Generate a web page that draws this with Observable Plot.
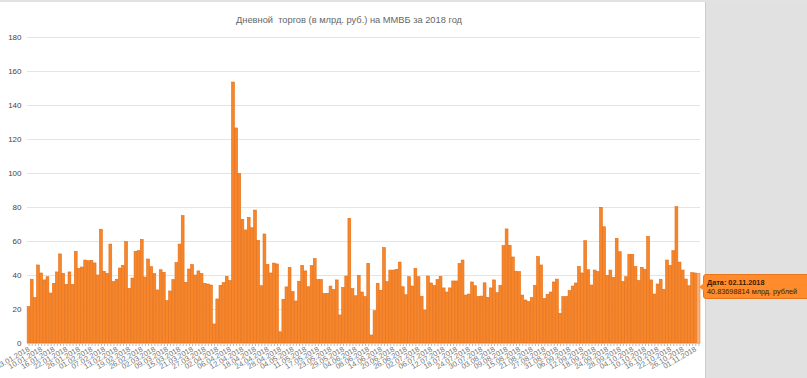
<!DOCTYPE html>
<html><head><meta charset="utf-8">
<script src="https://cdn.jsdelivr.net/npm/d3@7"></script>
<script src="https://cdn.jsdelivr.net/npm/@observablehq/plot@0.6"></script>
<style>
html,body{margin:0;padding:0;background:#fff;}
#wrap{position:relative;width:807px;height:378px;overflow:hidden;font-family:"Liberation Sans",Arial,sans-serif;}
#title{position:absolute;top:15px;left:0;width:698px;text-align:center;font-size:9.3px;color:#666;white-space:pre;}
#panel{position:absolute;left:705px;top:0;width:102px;height:378px;background:#e1e1e1;border-left:1px solid #cdcdcd;}
#topline{position:absolute;left:0;top:0;width:807px;height:2px;background:#e2e2e2;}
#tip{position:absolute;left:703px;top:274px;width:108px;height:25px;background:#ff8b2c;border:1px solid #e8761c;border-radius:3px;font-size:7.3px;color:#3a1d05;line-height:9px;padding:3px 0 0 3px;box-sizing:border-box;white-space:nowrap;}
#tip b{display:block;}
#tip:before{content:"";position:absolute;left:-5px;top:8px;border-top:4px solid transparent;border-bottom:4px solid transparent;border-right:5px solid #ff8b2c;}
svg{position:absolute;left:0;top:0;}
</style></head>
<body><div id="wrap"><div id="panel"></div><div id="topline"></div><div id="title"></div><div id="chart"></div><div id="tip"></div></div>
<script>
const titleText = "Дневной  торгов (в млрд. руб.) на ММВБ за 2018 год";
const tipDate = "02.11.2018";
const tipValue = "40.83698814 млрд. рублей";
const yTicks = [0,20,40,60,80,100,120,140,160,180];
const dateLabels = ["03.01.2018","10.01.2018","16.01.2018","22.01.2018","26.01.2018","01.02.2018","07.02.2018","13.02.2018","19.02.2018","26.02.2018","02.03.2018","09.03.2018","15.03.2018","21.03.2018","27.03.2018","02.04.2018","06.04.2018","12.04.2018","18.04.2018","24.04.2018","28.04.2018","04.05.2018","11.05.2018","17.05.2018","23.05.2018","29.05.2018","04.06.2018","08.06.2018","14.06.2018","20.06.2018","26.06.2018","02.07.2018","06.07.2018","12.07.2018","18.07.2018","24.07.2018","30.07.2018","03.08.2018","09.08.2018","15.08.2018","21.08.2018","27.08.2018","31.08.2018","06.09.2018","12.09.2018","18.09.2018","24.09.2018","28.09.2018","04.10.2018","10.10.2018","16.10.2018","22.10.2018","26.10.2018","01.11.2018"];
const labelStep = 4;
const values = [
21.4,37.5,26.7,45.9,41.2,37.1,39,29.4,35.1,41.8,
52.4,41,34.5,41.8,34.5,53.9,43.9,44.7,48.8,48.4,
48.6,47.1,40,66.9,42.2,41,58.2,36.1,37.5,44.1,
45.7,59.6,32.2,38.2,53.9,54.3,61,38.8,49.4,44.9,
40.8,31.2,43.1,41.6,24.9,30.6,37.3,47.3,58.2,74.9,
35.7,43.5,46.1,40,42.4,40.8,35.1,34.7,34.1,11.2,
25.9,33.9,35.5,39.2,36.7,153.5,126.5,99.8,72.7,66.5,
73.9,67.8,78.2,60.4,33.7,64.1,46.3,41.2,47,46.5,
6.6,25.7,33,44.5,30.2,24.7,36.3,45.7,42.4,33.1,
45.5,49.6,37.3,37.3,29.2,29.2,33.5,31.4,37.1,16.5,
32.7,39.4,73.3,32,27.8,39.8,30,27.3,46.9,4.7,
19,35.1,31,56.1,36.1,42.9,42.9,43.3,47.6,33.1,
28.4,39,33.5,43.9,39,27.5,19.4,39.4,35.3,33.9,
37.3,39.2,32.4,30,32.4,36.5,36.5,46.7,48.8,28.2,
28.8,35.9,33.7,27.3,27.6,35.4,26.9,32.4,37.1,29.6,
33.9,57.3,67.1,57.5,50.6,42.2,42,28.2,25.3,24.3,
26.7,33.9,50.8,45.9,26.1,28.6,30,35.9,37.6,17.5,
27.3,27.3,30.8,33.5,35.3,44.9,41.2,60.2,43.1,34.1,
42.9,42,79.8,68.4,39.8,42.9,38.6,61.6,53.7,36.1,
39,52.2,52.2,44.9,36.7,44.5,43.3,62.7,37.1,28.8,
34.7,37.5,31.6,48.8,45.7,54.3,80.2,47.6,42.9,37.6,
33.7,41.4,41.2,40.84];

document.getElementById("title").textContent = titleText;
document.getElementById("tip").innerHTML = "<b>Дата: " + tipDate + "</b>" + tipValue;

const idx = d3.range(values.length);
const data = values.map((v, i) => ({i, v}));
const last = data.slice(-1);
const labelIdx = dateLabels.map((d, k) => k * labelStep);
const labelOf = new Map(labelIdx.map((i, k) => [i, dateLabels[k]]));

const chart = Plot.plot({
  width: 705, height: 378,
  marginLeft: 27, marginRight: 5, marginTop: 37, marginBottom: 35,
  style: {fontFamily: '"Liberation Sans", Arial, sans-serif', background: "transparent", overflow: "visible"},
  x: {type: "band", domain: idx, paddingInner: 0.1, paddingOuter: 0.05},
  y: {domain: [0, 180]},
  marks: [
    Plot.gridY(yTicks, {stroke: "#e4e4e4", strokeOpacity: 1}),
    Plot.barY(data, {x: "i", y: "v", fill: "#f7862b", stroke: "#e46d14", strokeWidth: 0.6}),
    Plot.barY(last, {x: "i", y: "v", fill: "#fab07a", stroke: "#f39a55", strokeWidth: 0.6}),
    Plot.axisY(yTicks, {tickSize: 0, tickPadding: 6, fontSize: 8, fill: "#444", label: null}),
    Plot.axisX(idx, {tickSize: 3, stroke: "#bbb", tickFormat: () => "", label: null}),
    Plot.axisX(labelIdx, {tickSize: 0, tickPadding: 5, tickRotate: -30, fontSize: 7.5, fill: "#777", tickFormat: i => labelOf.get(i), label: null})
  ]
});
document.getElementById("chart").appendChild(chart);
</script>
</body></html>
